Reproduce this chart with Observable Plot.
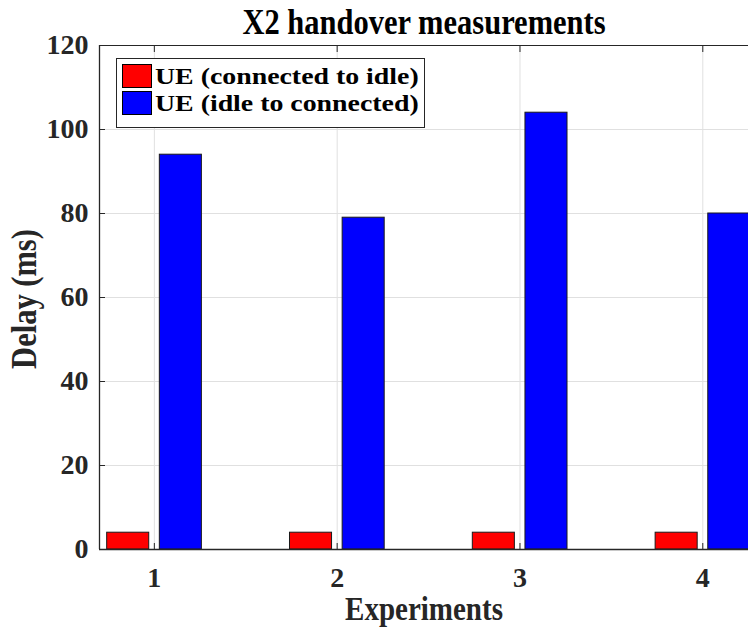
<!DOCTYPE html>
<html>
<head>
<meta charset="utf-8">
<script src="https://cdn.jsdelivr.net/npm/d3@7"></script>
<script src="https://cdn.jsdelivr.net/npm/@observablehq/plot@0.6"></script>
<style>
  body { margin: 0; background: #fff; }
  #wrap { position: relative; width: 748px; height: 630px; overflow: hidden;
          font-family: "Liberation Serif", "Times New Roman", serif; color: #262626; }
  .lbl { position: absolute; font-weight: bold; white-space: nowrap; line-height: 1; }
  #title { left: 424px; top: 8px; transform: translateX(-50%) scaleY(1.15); font-size: 30.5px; color: #000; }
  #xlabel { left: 424px; top: 595px; transform: translateX(-50%) scaleY(1.15); font-size: 29px; }
  #ylabel { left: 25px; top: 299px; transform: translate(-50%, -50%) rotate(-90deg) scaleY(1.15); font-size: 30.5px; }
  #legend { position: absolute; left: 116px; top: 58px; width: 309px; height: 70px;
            background: #fff; border: 1px solid #262626; box-sizing: border-box; }
  .row { position: absolute; left: 5px; height: 24px; display: flex; align-items: center; }
  .sw { width: 30px; height: 24px; box-sizing: border-box; border: 1px solid #000; margin-right: 3px; flex: none; }
  .txt { font-weight: bold; font-size: 24px; line-height: 24px; color: #000; display: inline-block;
         transform: scaleX(1.16); transform-origin: left center; white-space: nowrap; }
</style>
</head>
<body>
<div id="wrap">
  <div id="plot"></div>
  <div id="title" class="lbl">X2 handover measurements</div>
  <div id="xlabel" class="lbl">Experiments</div>
  <div id="ylabel" class="lbl">Delay (ms)</div>
  <div id="legend"></div>
</div>
<script>
// ---- data ----
const experiments = [1, 2, 3, 4];
const connectedToIdle = [4, 4, 4, 4];
const idleToConnected = [94, 79, 104, 80];
const seriesNames = ["UE (connected to idle)", "UE (idle to connected)"];
const seriesColors = ["#ff0000", "#0000ff"];
const yTicks = [0, 20, 40, 60, 80, 100, 120];

// ---- layout constants ----
const xDomain = [0.7, 4.25];
const groupOffsets = [-0.143, 0.145];
const halfBar = 0.115;

const seriesValues = [connectedToIdle, idleToConnected];
const rows = [];
seriesValues.forEach((vals, s) => {
  vals.forEach((v, i) => rows.push({ x: experiments[i], s, value: v, name: seriesNames[s] }));
});

const plot = Plot.plot({
  width: 748,
  height: 630,
  marginTop: 45,
  marginBottom: 81,
  marginLeft: 99,
  marginRight: 0,
  style: { fontFamily: '"Liberation Serif", "Times New Roman", serif', background: "#fff" },
  x: { type: "linear", domain: xDomain },
  y: { domain: [0, 120] },
  marks: [
    Plot.gridY(yTicks, { stroke: "#e0e0e0", strokeOpacity: 1, strokeWidth: 1 }),
    Plot.gridX(experiments, { stroke: "#e0e0e0", strokeOpacity: 1, strokeWidth: 1 }),
    Plot.rectY(rows, {
      x1: d => d.x + groupOffsets[d.s] - halfBar,
      x2: d => d.x + groupOffsets[d.s] + halfBar,
      y1: 0,
      y2: "value",
      fill: d => seriesColors[d.s],
      stroke: "#1a1a1a",
      strokeWidth: 1
    }),
    Plot.ruleY([0], { stroke: "#262626", strokeWidth: 1.3 }),
    Plot.ruleY([120], { stroke: "#262626", strokeWidth: 1 }),
    Plot.ruleX([xDomain[0]], { stroke: "#262626", strokeWidth: 1.3 }),
    Plot.axisY(yTicks, {
      anchor: "left", tickSize: -6, tickPadding: 17, stroke: "#262626",
      fontSize: 28, fontWeight: "bold", fill: "#262626", label: null
    }),
    Plot.axisX(experiments, {
      anchor: "bottom", tickSize: -6, tickPadding: 24, stroke: "#262626",
      fontSize: 28, fontWeight: "bold", fill: "#262626", label: null, tickFormat: d => String(d)
    }),
    Plot.axisX(experiments, {
      anchor: "top", tickSize: -6, stroke: "#262626", tickFormat: null, text: null, label: null
    })
  ]
});
document.getElementById("plot").appendChild(plot);

// legend (HTML overlay)
const legend = document.getElementById("legend");
seriesNames.forEach((n, i) => {
  const r = document.createElement("div");
  r.className = "row";
  r.style.top = (5 + i * 27) + "px";
  const sw = document.createElement("div");
  sw.className = "sw";
  sw.style.background = seriesColors[i];
  const t = document.createElement("span");
  t.className = "txt";
  t.textContent = n;
  r.appendChild(sw); r.appendChild(t);
  legend.appendChild(r);
});
</script>
</body>
</html>
